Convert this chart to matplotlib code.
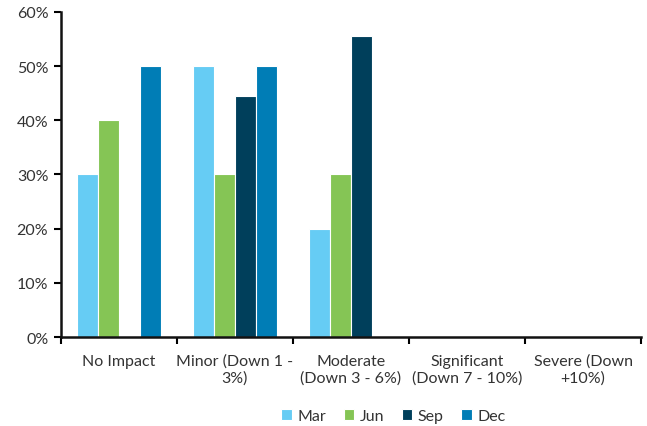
import numpy as np
import matplotlib.pyplot as plt
from matplotlib.ticker import PercentFormatter

plt.rcParams['font.family'] = ['Lato', 'DejaVu Sans']

categories = ["No Impact", "Minor (Down 1 -\n3%)", "Moderate\n(Down 3 - 6%)",
              "Significant\n(Down 7 - 10%)", "Severe (Down\n+10%)"]
mar = [30, 50, 20, 0, 0]
jun = [40, 30, 30, 0, 0]
sep = [0, 44.4, 55.6, 0, 0]
dec = [50, 50, 0, 0, 0]

series = [("Mar", mar, "#66ccf4"), ("Jun", jun, "#85c555"),
          ("Sep", sep, "#003f5b"), ("Dec", dec, "#007db6")]

fig = plt.figure(figsize=(6.47, 4.27), dpi=100)
ax = fig.add_axes([0.094, 0.208, 0.897, 0.762])

x = np.arange(len(categories))
w = 0.18
for i, (name, vals, col) in enumerate(series):
    ax.bar(x + (i - 1.5) * w, vals, w, color=col, edgecolor="white",
           linewidth=0.8, label=name)

ax.set_xlim(-0.5, len(categories) - 0.5)
ax.set_ylim(0, 60)
ax.set_yticks(np.arange(0, 61, 10))
ax.yaxis.set_major_formatter(PercentFormatter(decimals=0))

# ticks sit between the categories, labels under the centres
ax.set_xticks(np.arange(-0.5, len(categories)), minor=False)
ax.set_xticklabels([])
ax.set_xticks(x, minor=True)
ax.set_xticklabels(categories, minor=True)
ax.tick_params(axis="x", which="minor", length=0, pad=12)
ax.tick_params(axis="x", which="major", length=5, width=1.5, direction="out")
ax.tick_params(axis="y", length=5, width=1.5, direction="out", pad=4)
ax.tick_params(which="both", labelsize=11.5, labelcolor="#333333")

for s in ["top", "right"]:
    ax.spines[s].set_visible(False)
for s in ["left", "bottom"]:
    ax.spines[s].set_linewidth(1.8)
    ax.spines[s].set_color("#111111")

ax.legend(loc="center", bbox_to_anchor=(0.573, -0.242), ncol=4, frameon=False,
          fontsize=11.5, handlelength=0.65, handleheight=0.65, handletextpad=0.35,
          columnspacing=1.1, labelcolor="#333333")

fig.savefig("out.png", dpi=100)
